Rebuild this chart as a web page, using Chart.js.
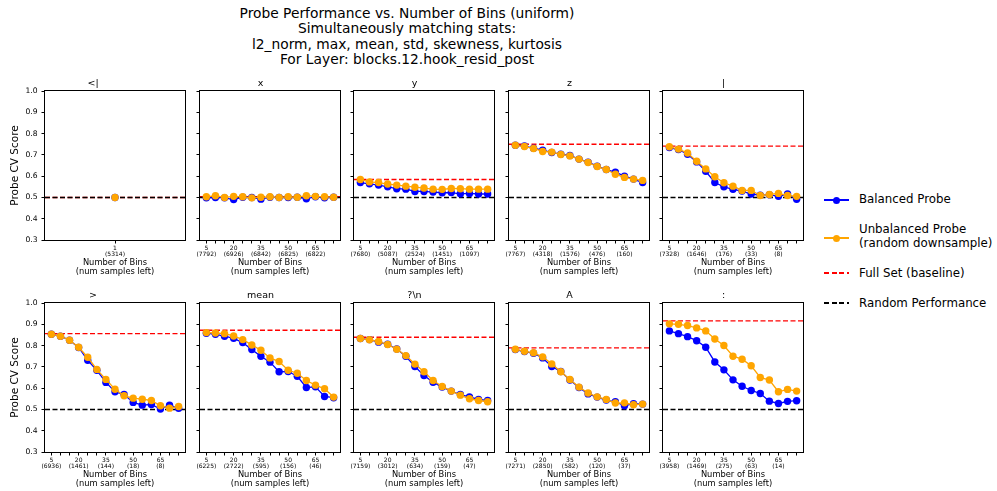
<!DOCTYPE html>
<html>
<head>
<meta charset="utf-8">
<script src="https://cdn.jsdelivr.net/npm/chart.js@4.4.1/dist/chart.umd.min.js"></script>
<style>
  html, body { margin: 0; padding: 0; background: #fff; overflow: hidden; }
  body { width: 997px; height: 491px; position: relative; font-family: 'DejaVu Sans', sans-serif; color: #000; }
  canvas { position: absolute; }
  #title { position: absolute; left: 207px; width: 400px; top: 5.5px; text-align: center; font-size: 13.8px; line-height: 15.6px; }
  .leg-line { position: absolute; left: 824px; width: 25px; height: 2px; }
  .leg-dot { position: absolute; left: 833px; width: 7px; height: 7px; border-radius: 50%; }
  .leg-text { position: absolute; left: 859px; font-size: 11.8px; line-height: 13.3px; white-space: nowrap; }
</style>
</head>
<body>
<div id="title">Probe Performance vs. Number of Bins (uniform)<br>Simultaneously matching stats:<br>l2_norm, max, mean, std, skewness, kurtosis<br>For Layer: blocks.12.hook_resid_post</div>

<div class="leg-line" style="top:199px;background:#0000ff"></div>
<div class="leg-dot" style="top:196.5px;background:#0000ff"></div>
<div class="leg-text" style="top:193.3px">Balanced Probe</div>

<div class="leg-line" style="top:237px;background:#ffa500"></div>
<div class="leg-dot" style="top:234.5px;background:#ffa500"></div>
<div class="leg-text" style="top:223.3px">Unbalanced Probe<br>(random downsample)</div>

<div class="leg-line" style="top:272px;background:repeating-linear-gradient(to right,#ff0000 0 5px,transparent 5px 7.5px)"></div>
<div class="leg-text" style="top:266.6px">Full Set (baseline)</div>

<div class="leg-line" style="top:302px;background:repeating-linear-gradient(to right,#000 0 5px,transparent 5px 7.5px)"></div>
<div class="leg-text" style="top:296.6px">Random Performance</div>

<script>
// x positions (number of bins) and labelled ticks
const BINS = [5, 10, 15, 20, 25, 30, 35, 40, 45, 50, 55, 60, 65, 70, 75];
const LABELED_BINS = [5, 20, 35, 50, 65];
const Y_TICKS = [0.3, 0.4, 0.5, 0.6, 0.7, 0.8, 0.9, 1.0];
const PANEL_TITLES = ['<|', 'x', 'y', 'z', '|', '>', 'mean', '?\\n', 'A', ':'];

// samples left at the labelled ticks
const samplesLtPipe = [5314];
const samplesX = [7792, 6926, 6842, 6825, 6822];
const samplesY = [7680, 5087, 2524, 1451, 1097];
const samplesZ = [7767, 4318, 1576, 476, 160];
const samplesPipe = [7328, 1646, 176, 33, 8];
const samplesGt = [6936, 1461, 144, 18, 8];
const samplesMean = [6225, 2722, 595, 156, 46];
const samplesQnl = [7159, 3012, 634, 159, 47];
const samplesA = [7271, 2850, 582, 120, 37];
const samplesColon = [3958, 1469, 275, 63, 14];

// balanced probe scores
const balLtPipe = [0.5];
const balX = [0.498, 0.500, 0.498, 0.490, 0.501, 0.500, 0.492, 0.501, 0.500, 0.500, 0.501, 0.494, 0.503, 0.498, 0.501];
const balY = [0.570, 0.564, 0.558, 0.550, 0.541, 0.539, 0.528, 0.528, 0.525, 0.522, 0.523, 0.517, 0.519, 0.516, 0.516];
const balZ = [0.745, 0.742, 0.731, 0.722, 0.711, 0.703, 0.697, 0.680, 0.666, 0.647, 0.631, 0.619, 0.600, 0.586, 0.570];
const balPipe = [0.734, 0.725, 0.703, 0.667, 0.623, 0.570, 0.550, 0.538, 0.530, 0.516, 0.511, 0.513, 0.505, 0.516, 0.491];
const balGt = [0.853, 0.844, 0.825, 0.791, 0.731, 0.684, 0.627, 0.583, 0.570, 0.533, 0.520, 0.523, 0.502, 0.520, 0.505];
const balMean = [0.858, 0.853, 0.844, 0.834, 0.814, 0.781, 0.750, 0.722, 0.677, 0.678, 0.656, 0.603, 0.606, 0.561, 0.555];
const balQnl = [0.833, 0.828, 0.816, 0.806, 0.784, 0.750, 0.702, 0.659, 0.628, 0.605, 0.586, 0.570, 0.559, 0.547, 0.542];
const balA = [0.781, 0.772, 0.764, 0.742, 0.702, 0.678, 0.638, 0.603, 0.573, 0.558, 0.544, 0.536, 0.517, 0.527, 0.525];
const balColon = [0.869, 0.856, 0.842, 0.823, 0.792, 0.723, 0.686, 0.639, 0.609, 0.589, 0.575, 0.539, 0.528, 0.538, 0.541];

// unbalanced probe scores (random downsample)
const unbLtPipe = [0.5];
const unbX = [0.503, 0.508, 0.500, 0.505, 0.503, 0.498, 0.501, 0.503, 0.500, 0.503, 0.501, 0.508, 0.505, 0.503, 0.501];
const unbY = [0.584, 0.573, 0.570, 0.563, 0.558, 0.553, 0.548, 0.544, 0.539, 0.538, 0.542, 0.541, 0.539, 0.539, 0.539];
const unbZ = [0.745, 0.739, 0.730, 0.716, 0.713, 0.702, 0.695, 0.680, 0.664, 0.645, 0.631, 0.609, 0.594, 0.586, 0.580];
const unbPipe = [0.738, 0.727, 0.709, 0.670, 0.634, 0.597, 0.569, 0.553, 0.533, 0.533, 0.509, 0.514, 0.519, 0.509, 0.505];
const unbGt = [0.853, 0.844, 0.825, 0.792, 0.745, 0.688, 0.641, 0.595, 0.564, 0.553, 0.548, 0.542, 0.517, 0.506, 0.514];
const unbMean = [0.861, 0.859, 0.856, 0.845, 0.828, 0.803, 0.778, 0.742, 0.725, 0.684, 0.670, 0.636, 0.614, 0.597, 0.558];
const unbQnl = [0.833, 0.827, 0.819, 0.805, 0.783, 0.753, 0.713, 0.677, 0.636, 0.608, 0.586, 0.567, 0.550, 0.542, 0.536];
const unbA = [0.783, 0.773, 0.766, 0.747, 0.714, 0.677, 0.641, 0.605, 0.577, 0.559, 0.547, 0.530, 0.531, 0.522, 0.525];
const unbColon = [0.902, 0.900, 0.894, 0.883, 0.869, 0.831, 0.800, 0.750, 0.736, 0.705, 0.650, 0.638, 0.583, 0.594, 0.586];

// baselines
const FULL_SET = [0.5, 0.503, 0.584, 0.750, 0.741, 0.856, 0.872, 0.839, 0.789, 0.916];
const RANDOM_PERF = 0.5;

const BLUE = '#0000ff';
const ORANGE = '#ffa500';

// layout (px)
const COL_X = [45, 200, 354, 509, 663];
const ROW_Y = [91, 303];
const PLOT_W = 141;
const PLOT_H = 149;
const TOP_H = 20;
const BOTTOM_H = 38;
const RIGHT_PAD = 3;

const panels = [
  { bins: [1], bal: balLtPipe, unb: unbLtPipe, samples: samplesLtPipe },
  { bins: BINS, bal: balX, unb: unbX, samples: samplesX },
  { bins: BINS, bal: balY, unb: unbY, samples: samplesY },
  { bins: BINS, bal: balZ, unb: unbZ, samples: samplesZ },
  { bins: BINS, bal: balPipe, unb: unbPipe, samples: samplesPipe },
  { bins: BINS, bal: balGt, unb: unbGt, samples: samplesGt },
  { bins: BINS, bal: balMean, unb: unbMean, samples: samplesMean },
  { bins: BINS, bal: balQnl, unb: unbQnl, samples: samplesQnl },
  { bins: BINS, bal: balA, unb: unbA, samples: samplesA },
  { bins: BINS, bal: balColon, unb: unbColon, samples: samplesColon }
];

// box around each plot area
const frame = {
  id: 'frame',
  afterDraw(chart) {
    const { left, top, right, bottom } = chart.chartArea;
    const ctx = chart.ctx;
    ctx.save();
    ctx.strokeStyle = '#000';
    ctx.lineWidth = 1;
    ctx.strokeRect(Math.round(left) - 0.5, Math.round(top) - 0.5,
      Math.round(right) - Math.round(left) + 1, Math.round(bottom) - Math.round(top) + 1);
    ctx.restore();
  }
};

Chart.defaults.color = '#000';
Chart.defaults.font.family = "'DejaVu Sans', sans-serif";

panels.forEach((p, i) => {
  const row = Math.floor(i / 5), col = i % 5;
  const yW = col === 0 ? 45 : 20;
  const w = yW + PLOT_W + RIGHT_PAD, h = TOP_H + PLOT_H + BOTTOM_H;
  const cv = document.createElement('canvas');
  cv.width = w; cv.height = h;
  cv.style.width = w + 'px'; cv.style.height = h + 'px';
  cv.style.left = (COL_X[col] - yW) + 'px';
  cv.style.top = (ROW_Y[row] - TOP_H) + 'px';
  document.body.appendChild(cv);

  const single = p.bins.length === 1;
  const xMin = single ? 0 : 1.5, xMax = single ? 2 : 78.5;
  const labelAt = single ? p.bins : LABELED_BINS;
  const dash = [5, 2.5];

  new Chart(cv, {
    type: 'line',
    data: {
      datasets: [
        {
          label: 'Unbalanced Probe (random downsample)',
          data: p.bins.map((b, k) => ({ x: b, y: p.unb[k] })),
          borderColor: ORANGE, backgroundColor: ORANGE,
          borderWidth: 1.3, pointRadius: 3.7, pointBorderWidth: 0,
          tension: 0, order: 0
        },
        {
          label: 'Balanced Probe',
          data: p.bins.map((b, k) => ({ x: b, y: p.bal[k] })),
          borderColor: BLUE, backgroundColor: BLUE,
          borderWidth: 1.3, pointRadius: 3.7, pointBorderWidth: 0,
          tension: 0, order: 1
        },
        {
          label: 'Random Performance',
          data: [{ x: xMin, y: RANDOM_PERF }, { x: xMax, y: RANDOM_PERF }],
          borderColor: '#000', borderWidth: 1.4, borderDash: dash,
          pointRadius: 0, order: 2
        },
        {
          label: 'Full Set (baseline)',
          data: [{ x: xMin, y: FULL_SET[i] }, { x: xMax, y: FULL_SET[i] }],
          borderColor: '#ff0000', borderWidth: 1.4, borderDash: dash,
          pointRadius: 0, order: 3
        }
      ]
    },
    options: {
      responsive: false,
      animation: false,
      events: [],
      layout: { padding: { top: 7.5, right: RIGHT_PAD, bottom: 0, left: 0 } },
      plugins: {
        legend: { display: false },
        tooltip: { enabled: false },
        title: {
          display: true, text: PANEL_TITLES[i], color: '#000',
          font: { size: 9.5, weight: 'normal', lineHeight: 1 },
          padding: { top: 0, bottom: 3 }
        }
      },
      scales: {
        x: {
          type: 'linear', min: xMin, max: xMax,
          afterBuildTicks: s => { s.ticks = p.bins.map(v => ({ value: v })); },
          afterFit: s => { s.height = BOTTOM_H; },
          ticks: {
            autoSkip: false, maxRotation: 0, padding: 1,
            font: { size: 6, lineHeight: 1.15 },
            callback: v => {
              const j = labelAt.indexOf(v);
              return j < 0 ? '' : [String(v), '(' + p.samples[j] + ')'];
            }
          },
          grid: { drawOnChartArea: false, tickLength: 3.5, color: '#000' },
          border: { display: false },
          title: {
            display: true, text: ['Number of Bins', '(num samples left)'],
            font: { size: 8.3, lineHeight: 1.05 },
            padding: { top: 0, bottom: 2 }
          }
        },
        y: {
          min: 0.3, max: 1.0,
          afterBuildTicks: s => { s.ticks = Y_TICKS.map(v => ({ value: v })); },
          afterFit: s => { s.width = yW; },
          ticks: {
            padding: 4, font: { size: 7.6 },
            callback: v => col === 0 ? v.toFixed(1) : ''
          },
          grid: { drawOnChartArea: false, tickLength: 3.5, color: '#000' },
          border: { display: false },
          title: {
            display: col === 0, text: 'Probe CV Score',
            font: { size: 10.5 },
            padding: { top: 9, bottom: 0 }
          }
        }
      }
    },
    plugins: [frame]
  });
});
</script>
</body>
</html>
